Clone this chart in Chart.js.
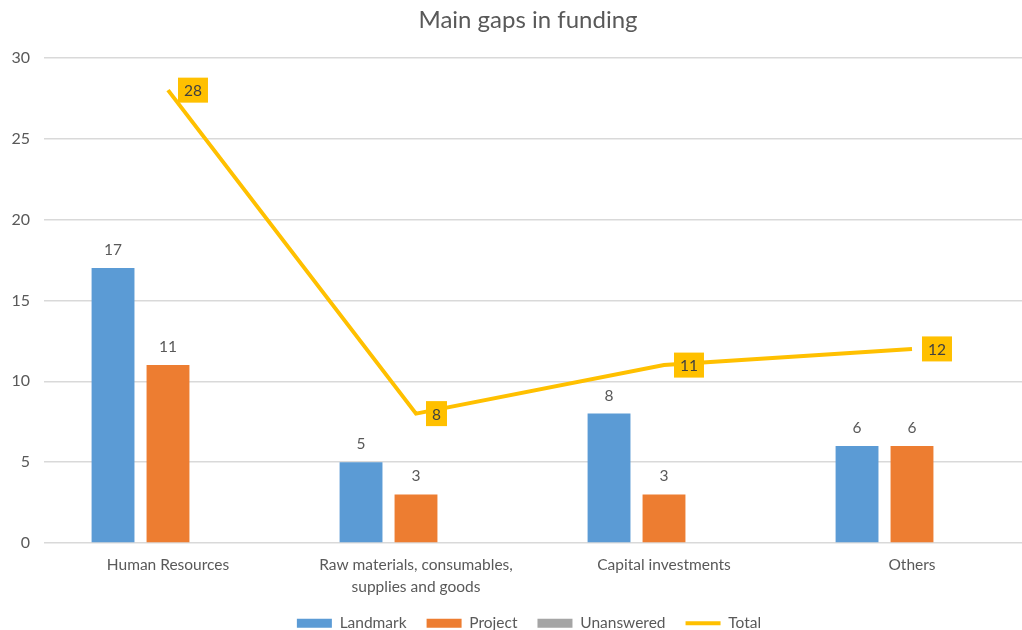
<!DOCTYPE html>
<html><head><meta charset="utf-8">
<script src="https://cdn.jsdelivr.net/npm/chart.js@4.4.0/dist/chart.umd.min.js"></script>
<style>html,body{margin:0;padding:0;overflow:hidden;background:#fff}#wrap{width:1052px;height:660px}</style>
</head><body><div id="wrap"><canvas id="c" width="1052" height="660"></canvas></div>
<script>
const categories = ['Human Resources', ['Raw materials, consumables,', 'supplies and goods'], 'Capital investments', 'Others'];
const landmark = [17, 5, 8, 6];
const project = [11, 3, 3, 6];
const unanswered = [0, 0, 0, 0];
const total = [28, 8, 11, 12];
const seriesNames = ['Landmark', 'Project', 'Unanswered', 'Total'];
const yMin = 0, yMax = 30, yStep = 5;

const FONT = 'Lato';
const TXT = '#595959';
const C_BLUE = '#5B9BD5', C_ORANGE = '#ED7D31', C_GRAY = '#A5A5A5', C_YELLOW = '#FFC000';

const labelPlugin = {
  id: 'valueLabels',
  afterDatasetsDraw(chart) {
    const ctx = chart.ctx;
    ctx.save();
    chart.data.datasets.forEach((ds, i) => {
      const meta = chart.getDatasetMeta(i);
      if (meta.hidden) return;
      meta.data.forEach((el, j) => {
        const v = ds.data[j];
        const t = String(v);
        if (ds.type === 'line') {
          ctx.font = '15.5px ' + FONT;
          const w = ctx.measureText(t).width;
          const bw = w + 12, bh = 25;
          const x = el.x + 10, y = el.y - bh / 2;
          ctx.fillStyle = C_YELLOW;
          ctx.fillRect(x, y, bw, bh);
          ctx.fillStyle = '#404040';
          ctx.textAlign = 'left';
          ctx.textBaseline = 'middle';
          ctx.fillText(t, x + 6, el.y + 1);
        } else if (v) {
          ctx.font = '15.5px ' + FONT;
          ctx.fillStyle = TXT;
          ctx.textAlign = 'center';
          ctx.textBaseline = 'middle';
          ctx.fillText(t, el.x, el.y - 18);
        }
      });
    });
    ctx.restore();
  }
};

// shifts title / legend blocks to match the reference's placement
const placePlugin = {
  id: 'place',
  afterLayout(chart) {
    const T = chart.titleBlock, L = chart.legend;
    if (T) { T.left += 10; T.right += 10; }
    if (L) {
      const dy = 622 - (L.bottom - 19);
      L.left += 11; L.right += 11; L.top += dy; L.bottom += dy;
    }
  }
};

new Chart(document.getElementById('c'), {
  data: {
    labels: categories,
    datasets: [
      { type: 'bar', label: seriesNames[0], data: landmark, backgroundColor: C_BLUE, borderWidth: 0, order: 1 },
      { type: 'bar', label: seriesNames[1], data: project, backgroundColor: C_ORANGE, borderWidth: 0, order: 1 },
      { type: 'bar', label: seriesNames[2], data: unanswered, backgroundColor: C_GRAY, borderWidth: 0, order: 1 },
      { type: 'line', label: seriesNames[3], data: total, borderColor: C_YELLOW, backgroundColor: C_YELLOW, borderWidth: 4, pointRadius: 0, tension: 0, order: 0 }
    ]
  },
  options: {
    responsive: false,
    animation: false,
    layout: { padding: { left: 0, right: 16, top: 0, bottom: 0 } },
    datasets: { bar: { categoryPercentage: 0.665, barPercentage: 0.78 } },
    plugins: {
      tooltip: { enabled: false },
      title: {
        display: true, text: 'Main gaps in funding', color: TXT,
        font: { family: FONT, size: 24, weight: 'normal' },
        padding: { top: 6, bottom: 23 }
      },
      legend: {
        position: 'bottom',
        labels: {
          color: TXT, font: { family: FONT, size: 15.5 },
          usePointStyle: true, pointStyleWidth: 35, boxHeight: 9, padding: 20,
          generateLabels(chart) {
            const items = Chart.defaults.plugins.legend.labels.generateLabels(chart);
            items.sort((a, b) => a.datasetIndex - b.datasetIndex);
            items.forEach(it => {
              const ds = chart.data.datasets[it.datasetIndex];
              if (ds.type === 'line') {
                it.pointStyle = 'line'; it.lineWidth = 4; it.strokeStyle = C_YELLOW; it.fillStyle = C_YELLOW;
              } else {
                it.pointStyle = 'rect'; it.lineWidth = 0; it.fillStyle = ds.backgroundColor; it.strokeStyle = ds.backgroundColor;
              }
            });
            return items;
          }
        }
      }
    },
    scales: {
      x: {
        grid: { display: false, drawTicks: false },
        border: { display: false },
        ticks: { color: TXT, font: { family: FONT, size: 15.5, lineHeight: 1.42 }, padding: 11, maxRotation: 0, autoSkip: false },
        afterFit(s) { s.height = 660 - s.chart.legend.height - 543; }
      },
      y: {
        min: yMin, max: yMax,
        grid: { color: '#D9D9D9', lineWidth: 1.5, drawTicks: false },
        border: { display: false },
        ticks: { stepSize: yStep, color: TXT, font: { family: FONT, size: 16 }, padding: 14 },
        afterFit(s) { s.width = 44; }
      }
    }
  },
  plugins: [labelPlugin, placePlugin]
});
</script>
</body></html>
